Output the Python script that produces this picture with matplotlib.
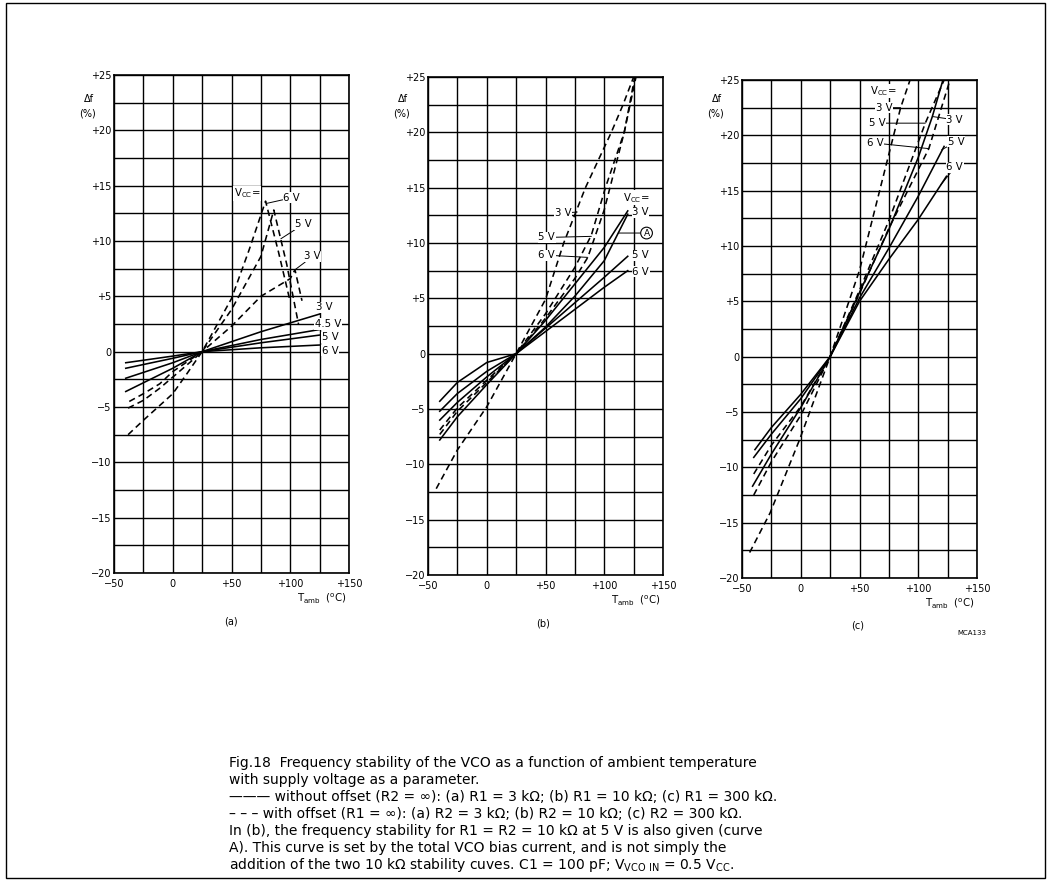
import matplotlib

matplotlib.use("Agg")

import matplotlib.pyplot as plt
import numpy as np
from matplotlib.patches import Rectangle

plt.rcParams["font.family"] = ["DejaVu Sans"]
plt.rcParams["mathtext.fontset"] = "dejavusans"

# ---- panel (a): R1 / R2 = 3 kOhm ----
a_solid_t = [-40, 0, 25, 75, 125]
a_solid_3v = [-3.6, -1.5, 0, 1.8, 3.4]
a_solid_45v = [-2.4, -1.0, 0, 1.1, 2.0]
a_solid_5v = [-1.5, -0.6, 0, 0.8, 1.5]
a_solid_6v = [-1.0, -0.4, 0, 0.35, 0.6]

a_dash_6v_t = [-38, -25, 0, 12, 25, 50, 65, 79, 90, 100]
a_dash_6v = [-7.5, -6.2, -3.8, -2.0, 0, 4.8, 9.2, 13.6, 9.0, 4.5]
a_dash_5v_t = [-38, -25, -11, 0, 17, 25, 50, 75, 86, 97, 107]
a_dash_5v = [-5.1, -4.4, -3.3, -2.3, -0.75, 0, 3.8, 8.6, 12.8, 7.9, 2.5]
a_dash_3v_t = [-37, -25, -11, 0, 25, 50, 75, 100, 104, 110]
a_dash_3v = [-4.5, -3.8, -2.9, -1.8, 0, 2.3, 5.0, 6.6, 7.4, 4.6]

# ---- panel (b): R1 / R2 = 10 kOhm ----
b_solid_t = [-40, -25, 0, 25, 50, 75, 100, 120]
b_solid_3v = [-7.8, -5.7, -2.8, 0, 3.0, 6.3, 9.6, 12.9]
b_solid_5v = [-5.2, -3.6, -1.6, 0, 2.3, 4.6, 6.9, 8.8]
b_solid_6v = [-4.3, -2.6, -0.8, 0, 2.0, 4.0, 6.0, 7.5]
b_curve_a = [-6.0, -4.4, -2.1, 0, 2.4, 5.2, 8.4, 12.6]

b_dash_3v_t = [-43, -25, 0, 25, 50, 65.5, 84, 106, 116, 125]
b_dash_3v = [-12.2, -8.7, -4.8, 0, 4.9, 10.0, 15.0, 20.0, 22.5, 25]
b_dash_5v_t = [-40, -25, 0, 25, 50, 75, 89, 101, 117, 126]
b_dash_5v = [-7.3, -5.2, -2.6, 0, 3.6, 7.8, 10.7, 15.0, 20.0, 25]
b_dash_6v_t = [-40, -25, 0, 25, 50, 75, 86, 100, 117, 127]
b_dash_6v = [-6.9, -4.9, -2.4, 0, 3.2, 6.8, 8.7, 13.0, 20.0, 25]

# ---- panel (c): R1 / R2 = 300 kOhm ----
c_solid_3v_t = [-41, -25, 0, 25, 50, 75, 100, 112, 121]
c_solid_3v = [-11.7, -8.8, -4.6, 0, 5.8, 11.5, 18.0, 21.7, 25]
c_solid_5v_t = [-40, -25, 0, 25, 50, 75, 100, 122]
c_solid_5v = [-9.1, -7.0, -3.8, 0, 5.3, 9.8, 14.5, 19.0]
c_solid_6v_t = [-39, -25, 0, 25, 50, 75, 100, 124]
c_solid_6v = [-8.4, -6.4, -3.4, 0, 5.0, 8.8, 12.4, 16.3]

c_dash_3v_t = [-43.5, -26, -1, 25, 50, 75, 85, 93]
c_dash_3v = [-17.7, -14.1, -7.5, 0, 7.8, 18.3, 22.5, 25]
c_dash_5v_t = [-40, -25, 0, 25, 50, 75, 106, 122]
c_dash_5v = [-12.5, -9.5, -5.3, 0, 6.0, 12.3, 21.1, 25]
c_dash_6v_t = [-40, -25, 0, 25, 50, 75, 109, 127]
c_dash_6v = [-10.6, -8.0, -4.5, 0, 5.7, 11.6, 18.8, 25]

x_ticks = [-50, -25, 0, 25, 50, 75, 100, 125, 150]
x_labels = ["\u221250", "", "0", "", "+50", "", "+100", "", "+150"]
y_ticks = list(np.arange(-20, 25.1, 2.5))
y_labels = ["\u221220", "", "\u221215", "", "\u221210", "", "\u22125", "", "0",
            "", "+5", "", "+10", "", "+15", "", "+20", "", "+25"]

W, H = 1050, 892
FS = 7.0
LFS = 7.3
SOLID = dict(color="black", lw=1.15)
DASH = dict(color="black", lw=1.15, ls=(0, (4, 2.6)))
LBL = dict(fontsize=LFS, va="center", ha="left",
           bbox=dict(fc="white", ec="none", pad=0.4))
LEAD = dict(arrowstyle="-", lw=0.7, color="black", shrinkA=0, shrinkB=0)

fig = plt.figure(figsize=(W / 100, H / 100), dpi=100)


def px_axes(x0, y0, x1, y1):
    return fig.add_axes([x0 / W, 1 - y1 / H, (x1 - x0) / W, (y1 - y0) / H])


def ftext(px, py, s, **kw):
    fig.text(px / W, 1 - py / H, s, **kw)


def setup(ax, left, bottom, right):
    ax.set_xlim(-50, 150)
    ax.set_ylim(-20, 25)
    ax.set_xticks(x_ticks)
    ax.set_xticklabels(x_labels)
    ax.set_yticks(y_ticks)
    ax.set_yticklabels(y_labels)
    ax.tick_params(axis="y", length=0, labelsize=FS, pad=2.0)
    ax.tick_params(axis="x", length=0, labelsize=FS, pad=4.5)
    ax.grid(True, color="black", lw=1.0)
    ax.set_axisbelow(True)
    for sp in ax.spines.values():
        sp.set_linewidth(1.2)
    ftext(right - 2, bottom + 25, r"T$_{\rm amb}$  ($^{\rm o}$C)",
          fontsize=LFS, ha="right", va="center")
    ftext(left - 30, 99, "\u0394f", fontsize=FS, ha="left", va="center")
    ftext(left - 35, 114, "(%)", fontsize=FS, ha="left", va="center")


def note(ax, s, xt, yt, xy=None, **kw):
    if xy is None:
        ax.annotate(s, xy=(xt, yt), **LBL, **kw)
    else:
        ax.annotate(s, xy=xy, xytext=(xt, yt), arrowprops=LEAD, **LBL, **kw)


vcc = r"V$_{\rm CC}$="

# panel (a)
ax = px_axes(114, 75, 349, 573)
setup(ax, 114, 573, 349)
for v in (a_solid_3v, a_solid_45v, a_solid_5v, a_solid_6v):
    ax.plot(a_solid_t, v, **SOLID)
ax.plot(a_dash_6v_t, a_dash_6v, **DASH)
ax.plot(a_dash_5v_t, a_dash_5v, **DASH)
ax.plot(a_dash_3v_t, a_dash_3v, **DASH)
note(ax, vcc, 52, 14.3)
note(ax, "6 V", 94, 13.9, xy=(80, 13.4))
note(ax, "5 V", 104, 11.5, xy=(92, 10.2))
note(ax, "3 V", 112, 8.6, xy=(104, 7.4))
note(ax, "3 V", 122, 4.0)
note(ax, "4.5 V", 121, 2.5)
note(ax, "5 V", 127, 1.3)
note(ax, "6 V", 127, 0.1)
ftext(231, 622, "(a)", fontsize=FS, ha="center", va="center")

# panel (b)
ax = px_axes(428, 77, 663, 575)
setup(ax, 428, 575, 663)
for v in (b_solid_3v, b_solid_5v, b_solid_6v, b_curve_a):
    ax.plot(b_solid_t, v, **SOLID)
ax.plot(b_dash_3v_t, b_dash_3v, **DASH)
ax.plot(b_dash_5v_t, b_dash_5v, **DASH)
ax.plot(b_dash_6v_t, b_dash_6v, **DASH)
note(ax, vcc, 116, 14.1)
note(ax, "3 V", 124, 12.8)
note(ax, "3 V", 58, 12.7, xy=(77, 12.8))
note(ax, "5 V", 44, 10.5, xy=(89, 10.6))
note(ax, "6 V", 44, 8.9, xy=(86, 8.7))
ax.annotate("A", xy=(112, 10.9), xytext=(136, 10.9), arrowprops=LEAD,
            fontsize=FS - 0.5, ha="center", va="center",
            bbox=dict(boxstyle="circle,pad=0.15", fc="white", ec="black", lw=0.8))
note(ax, "5 V", 124, 8.9)
note(ax, "6 V", 124, 7.4)
ftext(543, 623, "(b)", fontsize=FS, ha="center", va="center")

# panel (c)
ax = px_axes(742, 80, 977, 578)
setup(ax, 742, 578, 977)
ax.plot(c_solid_3v_t, c_solid_3v, **SOLID)
ax.plot(c_solid_5v_t, c_solid_5v, **SOLID)
ax.plot(c_solid_6v_t, c_solid_6v, **SOLID)
ax.plot(c_dash_3v_t, c_dash_3v, **DASH)
ax.plot(c_dash_5v_t, c_dash_5v, **DASH)
ax.plot(c_dash_6v_t, c_dash_6v, **DASH)
note(ax, vcc, 59, 24.0)
note(ax, "3 V", 64, 22.5, xy=(85, 22.5))
note(ax, "5 V", 58, 21.1, xy=(106, 21.1))
note(ax, "6 V", 56, 19.3, xy=(109, 18.8))
note(ax, "3 V", 124, 21.4, xy=(112, 21.7))
note(ax, "5 V", 125, 19.4, xy=(120, 18.7))
note(ax, "6 V", 124, 17.1, xy=(119, 15.5))
ftext(858, 625, "(c)", fontsize=FS, ha="center", va="center")
ftext(972, 633, "MCA133", fontsize=5, ha="center", va="center")

# caption
caption = [
    "Fig.18  Frequency stability of the VCO as a function of ambient temperature",
    "with supply voltage as a parameter.",
    "\u2014\u2014\u2014 without offset (R2 = \u221e): (a) R1 = 3 k\u03a9; (b) R1 = 10 k\u03a9; "
    "(c) R1 = 300 k\u03a9.",
    "\u2013 \u2013 \u2013 with offset (R1 = \u221e): (a) R2 = 3 k\u03a9; (b) R2 = 10 k\u03a9; "
    "(c) R2 = 300 k\u03a9.",
    "In (b), the frequency stability for R1 = R2 = 10 k\u03a9 at 5 V is also given (curve",
    "A). This curve is set by the total VCO bias current, and is not simply the",
    "addition of the two 10 k\u03a9 stability cuves. C1 = 100 pF; "
    r"V$_{\rm VCO\ IN}$ = 0.5 V$_{\rm CC}$.",
]
for i, line in enumerate(caption):
    ftext(229, 763 + 17 * i, line, fontsize=10.0, ha="left", va="center")

fig.patches.append(Rectangle((6 / W, 1 - 878 / H), 1039 / W, 875 / H,
                             transform=fig.transFigure, fill=False,
                             ec="black", lw=1.0))

fig.savefig("out.png", dpi=100)
